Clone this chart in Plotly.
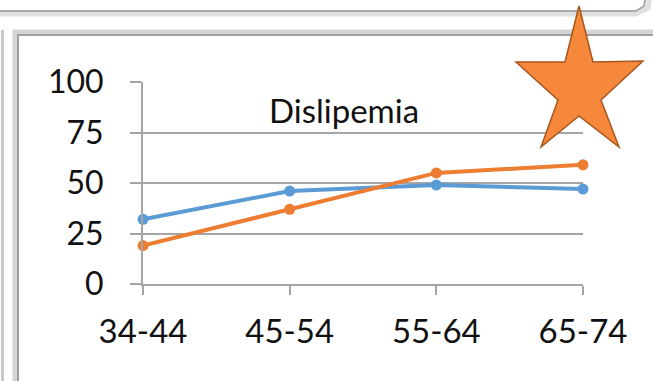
import plotly.graph_objects as go

categories = ["34-44", "45-54", "55-64", "65-74"]
series_blue = [32, 46, 49, 47]
series_orange = [19, 37, 55, 59]
y_ticks = [0, 25, 50, 75, 100]
title_text = "Dislipemia"

W, H = 653, 381
L, R, T, B = 143, 583, 82, 284  # plot area in pixels


def px(x):
    return (x - L) / (R - L)


def py(y):
    return (B - y) / (B - T)


def path(points, close=True):
    s = "M " + " L ".join(f"{px(x):.5f},{py(y):.5f}" for x, y in points)
    return s + (" Z" if close else "")


BLUE = "#5B9BD5"
ORANGE = "#ED7D31"
GRID = "#A5A5A5"
FONT = "Lato"
TXT = "#111111"

fig = go.Figure()
fig.add_trace(go.Scatter(x=categories, y=series_blue, mode="lines+markers",
                         line=dict(color=BLUE, width=4),
                         marker=dict(color=BLUE, size=11),
                         cliponaxis=False, showlegend=False))
fig.add_trace(go.Scatter(x=categories, y=series_orange, mode="lines+markers",
                         line=dict(color=ORANGE, width=4),
                         marker=dict(color=ORANGE, size=11),
                         cliponaxis=False, showlegend=False))

shapes = []
# upper panel bottom edge (shadow + line)
shapes.append(dict(type="path", xref="paper", yref="paper",
                   path=path([(-5, 14), (636, 14), (648, 8), (650, -5)], close=False),
                   line=dict(color="#E0E0E0", width=5)))
shapes.append(dict(type="path", xref="paper", yref="paper",
                   path=path([(-5, 11), (636, 11), (644, 6), (646, -5)], close=False),
                   line=dict(color="#A8A8A8", width=2)))
# far-left faint line
shapes.append(dict(type="line", xref="paper", yref="paper",
                   x0=px(2.5), x1=px(2.5), y0=py(30), y1=py(390),
                   line=dict(color="#C8C8C8", width=3)))
# main panel shadow and border
shapes.append(dict(type="path", xref="paper", yref="paper",
                   path=path([(15, 390), (15, 32), (660, 32)], close=False),
                   line=dict(color="#D5D5D5", width=5)))
shapes.append(dict(type="path", xref="paper", yref="paper",
                   path=path([(18, 390), (18, 35), (660, 35)], close=False),
                   line=dict(color="#A0A0A0", width=2)))
# star decoration
star = [(579, 6), (593, 62), (643, 61), (601, 100), (619, 147),
        (579, 116), (541, 147), (558, 100), (516, 62), (565, 62)]
shapes.append(dict(type="path", xref="paper", yref="paper", path=path(star),
                   fillcolor="#F5883A", line=dict(color="#A8561E", width=1.5),
                   layer="above"))

fig.update_layout(
    width=W, height=H,
    margin=dict(l=L, r=W - R, t=T, b=H - B),
    paper_bgcolor="white", plot_bgcolor="white",
    font=dict(family=FONT, color=TXT, size=32),
    shapes=shapes,
    annotations=[dict(text=title_text, xref="paper", yref="paper",
                      x=px(344), y=py(110), xanchor="center", yanchor="middle",
                      showarrow=False, font=dict(family=FONT, size=33, color=TXT))],
    xaxis=dict(type="category", range=[0, 3], showgrid=False, zeroline=False,
               showline=True, linecolor=GRID, linewidth=2,
               ticks="outside", ticklen=9, tickwidth=2, tickcolor=GRID,
               tickfont=dict(family=FONT, size=33, color=TXT), ticklabelstandoff=8),
    yaxis=dict(range=[0, 100], tickvals=y_ticks, showgrid=True, gridcolor=GRID,
               gridwidth=2, zeroline=False, showline=True, linecolor=GRID,
               linewidth=2, ticks="outside", ticklen=11, tickwidth=2, tickcolor=GRID,
               tickfont=dict(family=FONT, size=32, color=TXT), ticklabelstandoff=20),
)

fig.write_html("out.html")
